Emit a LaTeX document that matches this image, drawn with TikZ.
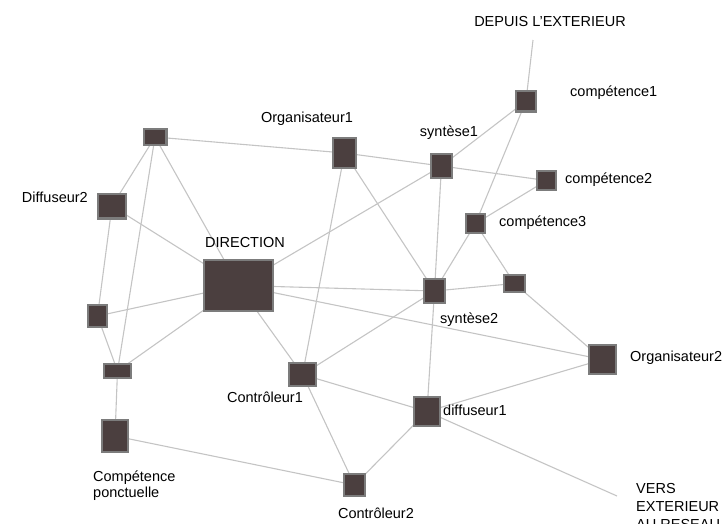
\documentclass[tikz,border=0pt]{standalone}
\usepackage{fontspec}
\setmainfont{Liberation Sans}
\usetikzlibrary{backgrounds}
\definecolor{boxfill}{HTML}{4B3F3F}
\definecolor{boxline}{HTML}{7C7C7C}
\definecolor{edgecol}{HTML}{C4C4C4}
\begin{document}
\begin{tikzpicture}[x=1pt,y=-1pt,
  box/.style 2 args={draw=boxline, line width=2.4pt, fill=boxfill, inner sep=0pt,
    minimum width=#1pt-2.4pt, minimum height=#2pt-2.4pt, rectangle},
  lbl/.style={inner sep=0pt, font=\fontsize{14.5}{17}\selectfont, text=black},
  edge/.style={draw=edgecol, line width=1.1pt}]
\useasboundingbox (0,0) rectangle (728,523);
% boxes
\node[box={25}{18}] (A) at (155,137) {};
\node[box={30}{27}] (dif2) at (112,206) {};
\node[box={21}{24}] (L1) at (97.5,316) {};
\node[box={29}{16}] (L2) at (117.5,371) {};
\node[box={28}{34}] (cp) at (115,436) {};
\node[box={71}{53}] (dir) at (238.5,285.5) {};
\node[box={25}{32}] (org1) at (344.5,153) {};
\node[box={23}{26}] (syn1) at (441.5,166) {};
\node[box={22}{23}] (c1) at (526,101) {};
\node[box={21}{21}] (c2) at (546.5,180.5) {};
\node[box={21}{21}] (c3) at (475.5,223.5) {};
\node[box={23}{26}] (syn2) at (434.5,291) {};
\node[box={23}{19}] (R1) at (514.5,283.5) {};
\node[box={29}{31}] (org2) at (602.5,359.5) {};
\node[box={29}{25}] (ctl1) at (302.5,374.5) {};
\node[box={28}{31}] (dif1) at (427,411.5) {};
\node[box={23}{24}] (ctl2) at (354.5,485) {};
\coordinate (depuisEnd) at (533,40);
\coordinate (versEnd) at (617,496);
% labels
\node[lbl] (tdepuis) at (550,22) {DEPUIS L'EXTERIEUR};
\node[lbl,anchor=west] (tc1) at (570,93) {compétence1};
\node[lbl] (tsyn1) at (449,133) {syntèse1};
\node[lbl] (torg1) at (307,119) {Organisateur1};
\node[lbl,anchor=west] (tc2) at (565,180) {compétence2};
\node[lbl,anchor=west] (tc3) at (499,223) {compétence3};
\node[lbl,anchor=east] (tdif2) at (88,197) {Diffuseur2};
\node[lbl] (tdir) at (245,243) {DIRECTION};
\node[lbl,anchor=west] (tsyn2) at (440,320) {syntèse2};
\node[lbl,anchor=west] (torg2) at (630,358) {Organisateur2};
\node[lbl,anchor=west] (tdif1) at (443,410) {diffuseur1};
\node[lbl] (tctl1) at (265,397) {Contrôleur1};
\node[lbl] (tctl2) at (376,513) {Contrôleur2};
\node[lbl,anchor=north west,align=left,font=\fontsize{14.5}{15.5}\selectfont] (tcp) at (93,471) {Compétence\\ponctuelle};
\node[lbl,anchor=north west,align=left,font=\fontsize{14.5}{18}\selectfont] (tvers) at (636,483) {VERS\\EXTERIEUR\\AU RESEAU};
% edges
\begin{pgfonlayer}{background}
\foreach \a/\b in {A/org1, A/dif2, A/dir, A/L2, dif2/L1, dif2/dir, L1/dir, L1/L2,
  L2/dir, L2/cp, cp/ctl2, dir/syn1, dir/syn2, dir/org2, dir/ctl1,
  org1/syn1, org1/ctl1, org1/syn2, syn1/c1, syn1/c2, syn1/syn2,
  c1/c3, c2/c3, c3/syn2, c3/R1, syn2/R1, syn2/ctl1, syn2/dif1,
  R1/org2, ctl1/dif1, ctl1/ctl2, dif1/org2, dif1/ctl2}
  \draw[edge] (\a.center) -- (\b.center);
\draw[edge] (c1.center) -- (depuisEnd);
\draw[edge] (dif1.center) -- (versEnd);
\end{pgfonlayer}
\end{tikzpicture}
\end{document}
